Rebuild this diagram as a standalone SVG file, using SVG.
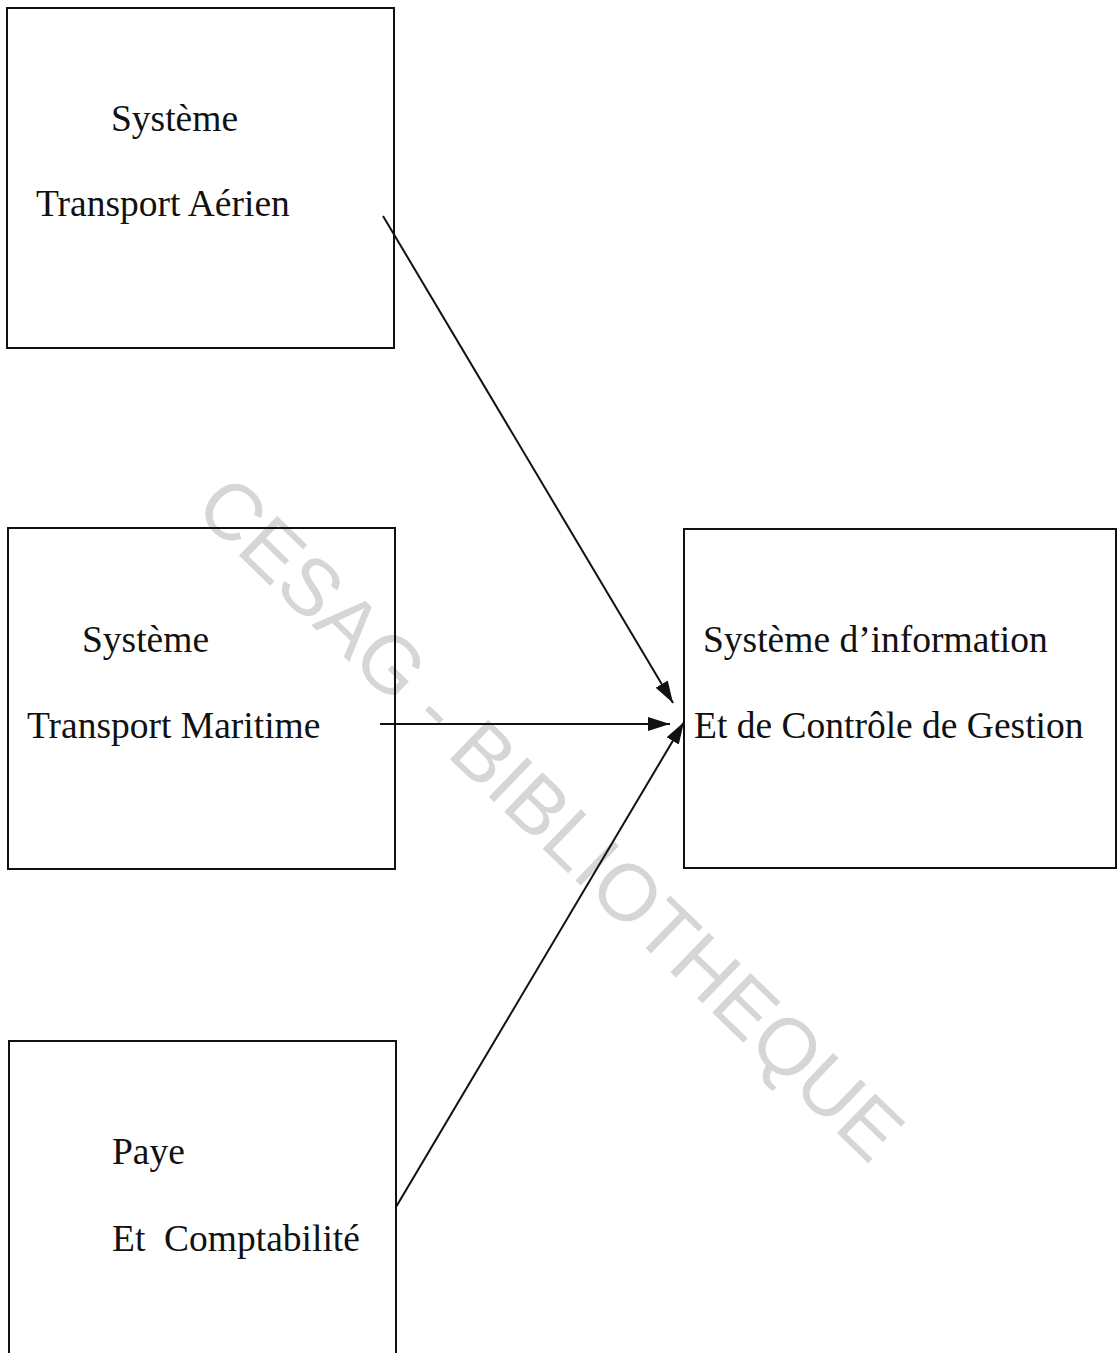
<svg xmlns="http://www.w3.org/2000/svg" width="1118" height="1353" viewBox="0 0 1118 1353">
  <style>
    .box { fill: none; stroke: #111; stroke-width: 2; }
    .label { font-family: "Liberation Serif", "Times New Roman", serif; font-size: 37.5px; fill: #111; }
    .link { stroke: #111; stroke-width: 2; fill: none; }
    .mark { font-family: "Liberation Sans", Arial, sans-serif; font-size: 80px; fill: #d6d6d6; }
  </style>
  <defs>
    <marker id="arrow" viewBox="0 0 22 14" refX="22" refY="7" markerWidth="22" markerHeight="14" markerUnits="userSpaceOnUse" orient="auto">
      <path d="M0,0 L22,7 L0,14 Z" fill="#111"/>
    </marker>
  </defs>

  <rect width="1118" height="1353" fill="#fff"/>

  <!-- library watermark -->
  <text class="mark" transform="translate(551,818) rotate(44)" x="0" y="28" text-anchor="middle">CESAG - BIBLIOTHEQUE</text>

  <g id="air">
    <rect class="box" x="7" y="8" width="387" height="340"/>
    <text class="label" x="111" y="131">Système</text>
    <text class="label" x="36" y="216">Transport Aérien</text>
  </g>

  <g id="sea">
    <rect class="box" x="8" y="528" width="387" height="341"/>
    <text class="label" x="82" y="652">Système</text>
    <text class="label" x="27" y="738">Transport Maritime</text>
  </g>

  <g id="payroll">
    <path class="box" d="M9,1353 V1041 H396 V1353"/>
    <text class="label" x="112" y="1164">Paye</text>
    <text class="label" x="112" y="1251" xml:space="preserve">Et  Comptabilité</text>
  </g>

  <g id="info">
    <rect class="box" x="684" y="529" width="432" height="339"/>
    <text class="label" x="703" y="652">Système d’information</text>
    <text class="label" x="694" y="738">Et de Contrôle de Gestion</text>
  </g>

  <g id="connectors">
    <line class="link" x1="383" y1="216" x2="673" y2="703" marker-end="url(#arrow)"/>
    <line class="link" x1="380" y1="724" x2="670" y2="724" marker-end="url(#arrow)"/>
    <line class="link" x1="396" y1="1207" x2="684" y2="722" marker-end="url(#arrow)"/>
  </g>
</svg>
